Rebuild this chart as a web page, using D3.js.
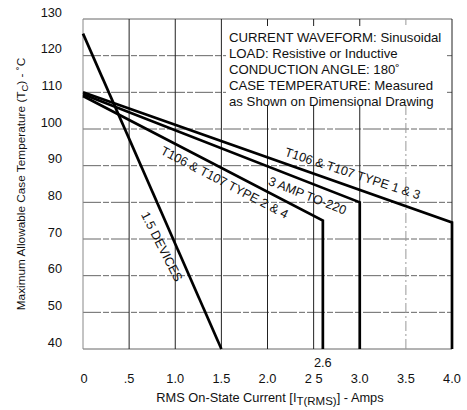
<!DOCTYPE html>
<html><head><meta charset="utf-8">
<script src="https://cdn.jsdelivr.net/npm/d3@7"></script>
<style>
html,body{margin:0;padding:0;background:#fff;}
text{font-family:"Liberation Sans",Arial,sans-serif;fill:#111;}
</style></head>
<body><svg id="c" width="467" height="410"></svg>
<script>
// ---- data ----
const xTicks = [0, 0.5, 1.0, 1.5, 2.0, 2.5, 3.0, 3.5, 4.0];
const xTickLabels = ["0", ".5", "1.0", "1.5", "2.0", "2 5", "3.0", "3.5", "4.0"];
const yTicks = [40, 50, 60, 70, 80, 90, 100, 110, 120, 130];
const seriesNames = ["1.5 DEVICES", "T106 & T107 TYPE 2 & 4", "3 AMP TO-220", "T106 & T107 TYPE 1 & 3"];
const seriesX = [[0, 1.5], [0, 2.6, 2.6], [0, 3.0, 3.0], [0, 4.0, 4.0]];
const seriesY = [[126, 40], [109, 75, 40], [109.5, 80, 40], [110, 74.5, 40]];
const noteLines = ["CURRENT WAVEFORM: Sinusoidal", "LOAD: Resistive or Inductive", "CONDUCTION ANGLE: 180˚", "CASE TEMPERATURE: Measured", "as Shown on Dimensional Drawing"];

const svg = d3.select("#c");
const x = d3.scaleLinear().domain([0, 4]).range([83, 452]);
const y = d3.scaleLinear().domain([40, 130]).range([349, 19]);

// grid
const g = svg.append("g");
g.selectAll(".h").data(yTicks).enter().append("line")
  .attr("x1", x(0)).attr("x2", x(4)).attr("y1", d => y(d)).attr("y2", d => y(d))
  .attr("stroke", "#666").attr("stroke-width", 1).attr("stroke-dasharray", d => (d===40||d===130)?null:"18,2,6,2");
g.selectAll(".v").data(xTicks).enter().append("line")
  .attr("x1", d => x(d)).attr("x2", d => x(d)).attr("y1", y(40)).attr("y2", y(130))
  .attr("stroke", d => d===0 ? "#888" : (d===3.5 ? "#999" : "#222")).attr("stroke-width", 1)
  .attr("stroke-dasharray", d => d===3.5 ? "10,3,2,3" : null);

// annotation box
svg.append("rect").attr("x", 226).attr("y", 26).attr("width", 221).attr("height", 79).attr("fill", "#fff");
svg.append("g").selectAll("text").data(noteLines).enter().append("text")
  .attr("x", 229).attr("y", (d, i) => 42 + i * 16)
  .attr("font-size", 13.2).text(d => d);

// series lines
const line = d3.line().x(d => x(d[0])).y(d => y(d[1]));
seriesNames.forEach((n, i) => {
  const pts = seriesX[i].map((v, j) => [v, seriesY[i][j]]);
  svg.append("path").attr("d", line(pts)).attr("fill", "none")
    .attr("stroke", "#000").attr("stroke-width", 2.7).attr("stroke-linejoin", "miter");
});

// series labels (centre in data units, rotation in degrees)
const lab = [
  {i: 0, x: 0.845, y: 67.8, a: 63},
  {i: 1, x: 1.53, y: 85.2, a: 27.5},
  {i: 2, x: 2.43, y: 81.6, a: 21.5},
  {i: 3, x: 2.92, y: 87.6, a: 18}
];
lab.forEach(l => {
  svg.append("text").attr("transform", `translate(${x(l.x)},${y(l.y)}) rotate(${l.a})`)
    .attr("text-anchor", "middle").attr("dominant-baseline", "middle")
    .attr("font-size", 12.6).text(seriesNames[l.i]);
});

// y tick labels
svg.append("g").selectAll("text").data(yTicks).enter().append("text")
  .attr("x", 62).attr("y", d => y(d) - 2.5).attr("text-anchor", "end")
  .attr("font-size", 12.8).text(d => d);

// x tick labels
svg.append("g").selectAll("text").data(xTicks).enter().append("text")
  .attr("x", (d, i) => x(d) + (i === 0 ? 1 : 0)).attr("y", 383).attr("text-anchor", "middle")
  .attr("font-size", 12.8).text((d, i) => xTickLabels[i]);
svg.append("text").attr("x", x(2.6)).attr("y", 367).attr("text-anchor", "middle")
  .attr("font-size", 12.8).text("2.6");

// axis titles
const xt = svg.append("text").attr("x", 270).attr("y", 402).attr("text-anchor", "middle").attr("font-size", 12.8);
xt.append("tspan").text("RMS On-State Current [I");
xt.append("tspan").attr("dy", 3).attr("font-size", 11.5).text("T(RMS)");
xt.append("tspan").attr("dy", -3).text("] - Amps");

const yt = svg.append("text").attr("transform", `translate(25,${184}) rotate(-90)`)
  .attr("text-anchor", "middle").attr("font-size", 11.8);
yt.append("tspan").text("Maximum Allowable Case Temperature (T");
yt.append("tspan").attr("dy", 3).attr("font-size", 9.5).text("C");
yt.append("tspan").attr("dy", -3).text(") - ˚C");
</script></body></html>
